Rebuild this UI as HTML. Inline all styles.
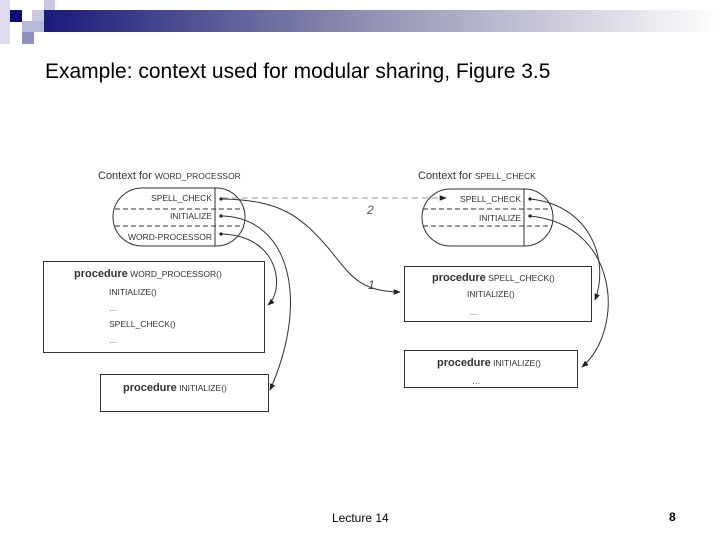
<!DOCTYPE html>
<html><head><meta charset="utf-8"><style>
html,body{margin:0;padding:0;background:#fff;}
svg{display:block;font-family:"Liberation Sans",sans-serif;}
</style></head><body>
<svg width="720" height="540" viewBox="0 0 720 540" xmlns="http://www.w3.org/2000/svg">
<defs>
<linearGradient id="g" x1="0" x2="1" y1="0" y2="0">
<stop offset="0" stop-color="#1a1a7a"/><stop offset="0.45" stop-color="#8a8aae"/><stop offset="1" stop-color="#ffffff"/>
</linearGradient>
<marker id="a" viewBox="0 0 10 10" refX="9" refY="5" markerWidth="7" markerHeight="7" orient="auto"><path d="M0,1 L10,5 L0,9 z" fill="#222"/></marker>
</defs>
<rect x="0" y="0" width="720" height="540" fill="#fff"/>
<rect x="0" y="0" width="10" height="44" fill="#dcdcee"/>
<rect x="44" y="0" width="11" height="10" fill="#c8c8e0"/>
<rect x="32" y="10" width="12" height="11" fill="#c8c8e0"/>
<rect x="44" y="10" width="676" height="22" fill="url(#g)"/>
<rect x="10" y="10" width="12" height="12" fill="#0d0d78"/>
<rect x="22" y="21" width="22" height="11" fill="#b8b8d8"/>
<rect x="22" y="32" width="12" height="12" fill="#9090c0"/>
<text x="45" y="78" font-size="21" fill="#000">Example: context used for modular sharing, Figure 3.5</text>

<g fill="none" stroke="#333" stroke-width="1">
<!-- left pill -->
<path d="M142,188 H216 A29,29 0 0 1 245,217 A29,29 0 0 1 216,246 H142 A29,29 0 0 1 113,217 A29,29 0 0 1 142,188 Z"/>
<line x1="215" y1="188" x2="215" y2="246"/>
<line x1="115" y1="209" x2="244" y2="209" stroke-dasharray="5,3"/>
<line x1="115" y1="226" x2="244" y2="226" stroke-dasharray="5,3"/>
<!-- right pill -->
<path d="M451,189 H524 A28.5,28.5 0 0 1 553,217.5 A28.5,28.5 0 0 1 524,246 H451 A28.5,28.5 0 0 1 422,217.5 A28.5,28.5 0 0 1 451,189 Z"/>
<line x1="524" y1="189" x2="524" y2="246"/>
<line x1="423" y1="209" x2="552" y2="209" stroke-dasharray="5,3"/>
<line x1="423" y1="226" x2="552" y2="226" stroke-dasharray="5,3"/>
<!-- boxes -->
<rect x="43.5" y="261.5" width="221" height="91"/>
<rect x="100.5" y="374.5" width="168" height="37"/>
<rect x="404.5" y="266.5" width="187" height="55"/>
<rect x="404.5" y="350.5" width="173" height="37"/>
<!-- dashed link 2 -->
<line x1="222" y1="198" x2="446" y2="198" stroke="#999" stroke-dasharray="6,4" marker-end="url(#a)"/>
<!-- arrows -->
<path d="M222,199 C280,200 300,215 330,250 C350,275 360,292 400,292" marker-end="url(#a)"/>
<path d="M222,216 C290,218 310,300 270,390" marker-end="url(#a)"/>
<path d="M222,234 C280,236 285,290 268,305" marker-end="url(#a)"/>
<path d="M530,199 C590,205 610,260 595,300" marker-end="url(#a)"/>
<path d="M530,216 C620,225 625,330 582,367" marker-end="url(#a)"/>
</g>
<g fill="#222">
<circle cx="221" cy="199" r="1.6"/><circle cx="221" cy="216" r="1.6"/><circle cx="221" cy="234" r="1.6"/>
<circle cx="530" cy="199" r="1.6"/><circle cx="530" cy="216" r="1.6"/>
</g>
<g font-size="8.5" fill="#333">
<text x="98" y="179" font-size="11">Context for <tspan font-size="8.5">WORD_PROCESSOR</tspan></text>
<text x="212" y="201" text-anchor="end">SPELL_CHECK</text>
<text x="212" y="219" text-anchor="end">INITIALIZE</text>
<text x="212" y="240" text-anchor="end">WORD-PROCESSOR</text>
<text x="418" y="179" font-size="11">Context for <tspan font-size="8.5">SPELL_CHECK</tspan></text>
<text x="521" y="202" text-anchor="end">SPELL_CHECK</text>
<text x="521" y="221" text-anchor="end">INITIALIZE</text>
<text x="74" y="277"><tspan font-size="11" font-weight="bold">procedure</tspan> WORD_PROCESSOR()</text>
<text x="109" y="295">INITIALIZE()</text>
<text x="109" y="311">…</text>
<text x="109" y="327">SPELL_CHECK()</text>
<text x="109" y="343">…</text>
<text x="123" y="391"><tspan font-size="11" font-weight="bold">procedure</tspan> INITIALIZE()</text>
<text x="432" y="281"><tspan font-size="11" font-weight="bold">procedure</tspan> SPELL_CHECK()</text>
<text x="467" y="297">INITIALIZE()</text>
<text x="469" y="315">…</text>
<text x="437" y="366"><tspan font-size="11" font-weight="bold">procedure</tspan> INITIALIZE()</text>
<text x="472" y="384">…</text>
<text x="367" y="214" font-size="12" font-style="italic" fill="#555">2</text>
<text x="368" y="289" font-size="12" font-style="italic" fill="#444">1</text>
</g>
<text x="332" y="522" font-size="12" fill="#000">Lecture 14</text>
<text x="669" y="521" font-size="12" font-weight="bold" fill="#000">8</text>
</svg>
</body></html>
